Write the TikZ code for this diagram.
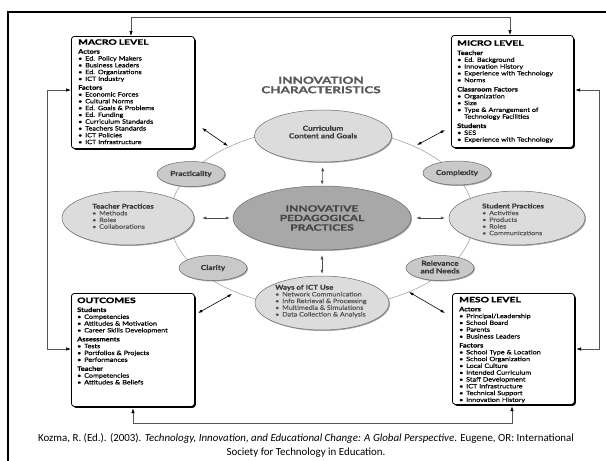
\documentclass[tikz,border=0pt]{standalone}
\usepackage{fontspec}
\usetikzlibrary{shapes.geometric,arrows.meta,shadows}
\newfontfamily\gill[FakeStretch=1.2,FakeBold=0.4]{Lato}
\newfontfamily\gillcaps[FakeStretch=1.4,BoldFeatures={FakeBold=1.2}]{Lato}
\newfontfamily\capfont{Carlito}
\newcommand\itm[1]{\makebox[7pt][l]{\textbullet}#1}
\newcommand\hd[1]{{\gillcaps\bfseries\fontsize{7.4}{8}\selectfont #1}}
\newcommand\shd[1]{{\gill\bfseries\fontsize{6.2}{6.8}\selectfont #1}}
\definecolor{ellfill}{HTML}{DCDCDC}
\definecolor{smallfill}{HTML}{C9C9C9}
\definecolor{ippfill}{HTML}{A8A8A8}
\definecolor{ellline}{HTML}{6A6A6A}
\definecolor{ringline}{HTML}{9A9A9A}
\definecolor{txtdark}{HTML}{3A3A3A}
\definecolor{txtitem}{HTML}{555555}
\definecolor{fbline}{HTML}{555555}
\tikzset{
  box/.style={draw=black, line width=0.8pt, rounded corners=3pt, fill=white,
    anchor=north west, inner sep=0pt,
    drop shadow={shadow xshift=1.4pt, shadow yshift=-1.4pt, fill=black, opacity=1}},
  boxtext/.style={anchor=north west, inner sep=0pt, align=left, text width=118pt,
    font=\gill\fontsize{6}{6.8}\selectfont},
  ell/.style={ellipse, draw=ellline, line width=0.5pt, inner sep=0pt, fill=ellfill,
    drop shadow={shadow xshift=1pt, shadow yshift=-1pt, fill=gray, opacity=0.7}},
  smallell/.style={ell, fill=smallfill},
  elltext/.style={inner sep=0pt, align=center, text=txtdark,
    font=\gill\bfseries\fontsize{6.9}{7.6}\selectfont},
  elllist/.style={anchor=north west, inner sep=0pt, align=left, text=txtitem,
    font=\gill\fontsize{6}{6.7}\selectfont},
  bi/.style={{Latex[length=4.5pt,width=3pt]}-{Latex[length=4.5pt,width=3pt]}, line width=0.6pt, black},
  cbi/.style={{Latex[length=4pt,width=3pt]}-{Latex[length=4pt,width=3pt]}, line width=0.5pt, black!70},
  fb/.style={draw=fbline, line width=0.6pt,
    {Latex[black,length=5pt,width=3.5pt]}-{Latex[black,length=5pt,width=3.5pt]}}
}
\begin{document}
\begin{tikzpicture}[x=1pt,y=-1pt]
\useasboundingbox (0,0) rectangle (606,461);
\fill[white] (0,0) rectangle (606,461);
\draw[line width=2pt] (8,462) -- (8,12) -- (607,12);

% ring
\node[ellipse, draw=ringline, line width=0.5pt, inner sep=0pt,
  minimum width=304pt, minimum height=180pt] (ring) at (322,218) {};

% title
\node[inner sep=0pt, align=center, text=black!65,
  font=\gillcaps\bfseries\fontsize{9.6}{9.5}\selectfont] (title) at (321,85) {INNOVATION\\CHARACTERISTICS};

% ellipses
\node[ell, minimum width=137pt, minimum height=52pt] (curr) at (323,136) {};
\node[ell, fill=ippfill, minimum width=178pt, minimum height=64pt] (ipp) at (322,218) {};
\node[ell, minimum width=134pt, minimum height=54pt] (ways) at (322,303) {};
\node[ell, minimum width=132pt, minimum height=54pt] (teach) at (128,218) {};
\node[ell, minimum width=136pt, minimum height=54pt] (stud) at (517,218) {};
\node[smallell, minimum width=68pt, minimum height=25pt] (prac) at (191,174) {};
\node[smallell, minimum width=68pt, minimum height=25pt] (clar) at (213,268) {};
\node[smallell, minimum width=68pt, minimum height=24pt] (comp) at (457,173) {};
\node[smallell, minimum width=68pt, minimum height=25pt] (relev) at (440,268) {};

\node[elltext] (currtxt) at (323,132) {Curriculum\\Content and Goals};
\node[elltext] (practxt) at (191,174) {Practicality};
\node[elltext] (clartxt) at (213,268) {Clarity};
\node[elltext] (comptxt) at (457,173) {Complexity};
\node[elltext] (releventxt) at (440,267) {Relevance\\and Needs};
\node[inner sep=0pt, align=center, text=black!72,
  font=\gillcaps\bfseries\fontsize{8.6}{9.5}\selectfont] (ipptxt) at (322,218) {INNOVATIVE\\PEDAGOGICAL\\PRACTICES};

\node[elllist] (teachtxt) at (92,203.5) {{\color{txtdark}\bfseries\fontsize{6.6}{6.7}\selectfont Teacher Practices}\\
\itm{Methods}\\ \itm{Roles}\\ \itm{Collaborations}};
\node[elllist] (studtxt) at (482,203.3) {{\color{txtdark}\bfseries\fontsize{6.6}{6.7}\selectfont Student Practices}\\
\itm{Activities}\\ \itm{Products}\\ \itm{Roles}\\ \itm{Communications}};
\node[elllist] (waystxt) at (275,284.6) {{\color{txtdark}\bfseries\fontsize{6.6}{6.7}\selectfont Ways of ICT Use}\\
\itm{Network Communication}\\ \itm{Info Retrieval \& Processing}\\ \itm{Multimedia \& Simulations}\\ \itm{Data Collection \& Analysis}};

% center arrows
\draw[cbi, shorten <=5pt, shorten >=1pt] (curr.south) -- (ipp.north);
\draw[cbi, shorten <=5pt, shorten >=2pt] (ipp.south) -- (ways.north);
\draw[cbi, shorten <=8pt, shorten >=3pt] (teach.east) -- (ipp.west);
\draw[cbi, shorten <=5pt, shorten >=4pt] (ipp.east) -- (stud.west);

% boxes
\node[box, minimum width=123pt, minimum height=112pt] (macro) at (71,36) {};
\node[box, minimum width=122pt, minimum height=112pt] (micro) at (451,35) {};
\node[box, minimum width=123pt, minimum height=113pt] (outc) at (71,293) {};
\node[box, minimum width=122pt, minimum height=111pt] (meso) at (452,293) {};

\node[boxtext] (macrotxt) at (78,39.1) {\hd{MACRO LEVEL}\\[2.2pt]
\shd{Actors}\\
\itm{Ed. Policy Makers}\\ \itm{Business Leaders}\\ \itm{Ed. Organizations}\\ \itm{ICT Industry}\\[2pt]
\shd{Factors}\\
\itm{Economic Forces}\\ \itm{Cultural Norms}\\ \itm{Ed. Goals \& Problems}\\ \itm{Ed. Funding}\\
\itm{Curriculum Standards}\\ \itm{Teachers Standards}\\ \itm{ICT Policies}\\ \itm{ICT Infrastructure}};

\node[boxtext] (microtxt) at (457,40.1) {\hd{MICRO LEVEL}\\[2.5pt]
\shd{Teacher}\\
\itm{Ed. Background}\\ \itm{Innovation History}\\ \itm{Experience with Technology}\\ \itm{Norms}\\[2.5pt]
\shd{Classroom Factors}\\
\itm{Organization}\\ \itm{Size}\\ \itm{Type \& Arrangement of}\\ \hspace*{7pt}Technology Facilities\\[2.5pt]
\shd{Students}\\
\itm{SES}\\ \itm{Experience with Technology}};

\node[boxtext] (outctxt) at (77,297.4) {\hd{OUTCOMES}\\[2.2pt]
\shd{Students}\\
\itm{Competencies}\\ \itm{Attitudes \& Motivation}\\ \itm{Career Skills Development}\\[2.2pt]
\shd{Assessments}\\
\itm{Tests}\\ \itm{Portfolios \& Projects}\\ \itm{Performances}\\[2.2pt]
\shd{Teacher}\\
\itm{Competencies}\\ \itm{Attitudes \& Beliefs}};

\node[boxtext] (mesotxt) at (459,296.7) {\hd{MESO LEVEL}\\[2.2pt]
\shd{Actors}\\
\itm{Principal/Leadership}\\ \itm{School Board}\\ \itm{Parents}\\ \itm{Business Leaders}\\[2.2pt]
\shd{Factors}\\
\itm{School Type \& Location}\\ \itm{School Organization}\\ \itm{Local Culture}\\ \itm{Intended Curriculum}\\
\itm{Staff Development}\\ \itm{ICT Infrastructure}\\ \itm{Technical Support}\\ \itm{Innovation History}};

% box <-> ring arrows
\coordinate (ma) at (202,128); \coordinate (mb) at (228,146);
\coordinate (ia) at (445,130); \coordinate (ib) at (417,145);
\coordinate (oa) at (198,313); \coordinate (ob) at (232,294);
\coordinate (sa) at (445,313); \coordinate (sb) at (409,292);
\draw[bi] (ma) -- (mb);
\draw[bi] (ia) -- (ib);
\draw[bi] (oa) -- (ob);
\draw[bi] (sa) -- (sb);

% feedback loops
\coordinate (tl) at (131,17); \coordinate (tr) at (510,17);
\coordinate (lt) at (47,90);  \coordinate (lb) at (47,349);
\coordinate (rt) at (599,90); \coordinate (rb) at (599,349);
\coordinate (bl) at (133,423); \coordinate (br) at (512,423);
\draw[fb] (macro.north -| tl) -- (tl) -- (tr) -- (micro.north -| tr);
\draw[fb] (macro.west |- lt) -- (lt) -- (lb) -- (outc.west |- lb);
\draw[fb] ([xshift=1.4pt]micro.east |- rt) -- (rt) -- (rb) -- ([xshift=1.4pt]meso.east |- rb);
\draw[fb] ([yshift=-1.4pt]outc.south -| bl) -- (bl) -- (br) -- ([yshift=-1.4pt]meso.south -| br);

% caption
\node[inner sep=0pt, align=center, font=\capfont\fontsize{10.9}{14}\selectfont] (cap) at (306,445)
{Kozma, R. (Ed.). (2003). \textit{Technology, Innovation, and Educational Change: A Global Perspective}. Eugene, OR: International\\Society for Technology in Education.};
\end{tikzpicture}
\end{document}
